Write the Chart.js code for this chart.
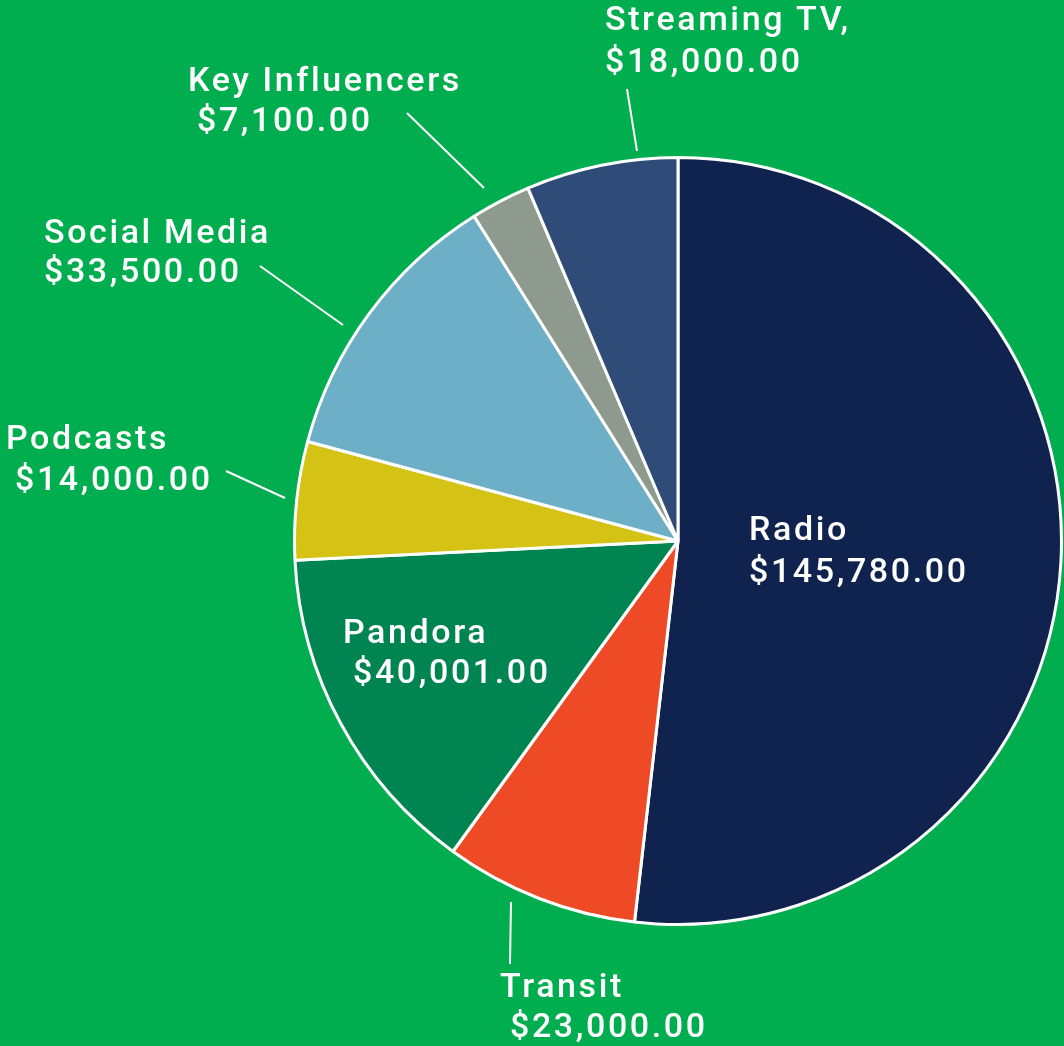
<!DOCTYPE html>
<html>
<head>
<meta charset="utf-8">
<script src="https://cdn.jsdelivr.net/npm/chart.js@4/dist/chart.umd.min.js"></script>
<style>
html,body{margin:0;padding:0;background:#00AE4F;}
#wrap{width:1064px;height:1046px;position:relative;}
canvas{display:block;}
</style>
</head>
<body>
<div id="wrap"><canvas id="c" width="1064" height="1046"></canvas></div>
<script>
// ---- data ----
const categories = ["Radio", "Transit", "Pandora", "Podcasts", "Social Media", "Key Influencers", "Streaming TV"];
const values = [145780, 23000, 40001, 14000, 33500, 7100, 18000];
const valueLabels = ["$145,780.00", "$23,000.00", "$40,001.00", "$14,000.00", "$33,500.00", "$7,100.00", "$18,000.00"];
const nameLabels = ["Radio", "Transit", "Pandora", "Podcasts", "Social Media", "Key Influencers", "Streaming TV,"];
const colors = ["#10234F", "#EE4A26", "#008552", "#D4C214", "#6DAFC7", "#8F9A8F", "#2E4C77"];

// ---- label layout (offsets relative to pie center) ----
const labelLayout = [
  {n:[71,-1],  v:[71,41],   line:null},
  {n:[-178,456], v:[-168,496], line:[-167,361,-168,423]},
  {n:[-335,102], v:[-325,142], line:null},
  {n:[-672,-92], v:[-663,-51], line:[-452,-70,-393,-43]},
  {n:[-634,-298], v:[-634,-259], line:[-418,-275,-335,-216]},
  {n:[-490,-450], v:[-481,-410], line:[-271,-428,-194,-353]},
  {n:[-73,-511], v:[-73,-469], line:[-51,-452,-41,-390]}
];

const labelPlugin = {
  id: 'labels',
  afterDatasetsDraw(chart) {
    const ctx = chart.ctx;
    const arc = chart.getDatasetMeta(0).data[0];
    const cx = arc.x, cy = arc.y;
    ctx.save();
    ctx.fillStyle = '#ffffff';
    ctx.strokeStyle = '#ffffff';
    ctx.lineWidth = 2;
    ctx.font = '500 34px Roboto';
    ctx.letterSpacing = '2.6px';
    ctx.textAlign = 'left';
    ctx.textBaseline = 'alphabetic';
    labelLayout.forEach((L, i) => {
      ctx.fillText(nameLabels[i], cx + L.n[0], cy + L.n[1]);
      ctx.fillText(valueLabels[i], cx + L.v[0], cy + L.v[1]);
      if (L.line) {
        ctx.beginPath();
        ctx.moveTo(cx + L.line[0], cy + L.line[1]);
        ctx.lineTo(cx + L.line[2], cy + L.line[3]);
        ctx.stroke();
      }
    });
    ctx.restore();
  }
};

new Chart(document.getElementById('c'), {
  type: 'pie',
  data: {
    labels: categories,
    datasets: [{
      data: values,
      backgroundColor: colors,
      borderColor: '#ffffff',
      borderWidth: 3
    }]
  },
  options: {
    responsive: false,
    animation: false,
    devicePixelRatio: 1,
    layout: {padding: {left: 293, right: 1, top: 156, bottom: 120}},
    plugins: {
      legend: {display: false},
      tooltip: {enabled: false}
    }
  },
  plugins: [labelPlugin]
});
</script>
</body>
</html>
